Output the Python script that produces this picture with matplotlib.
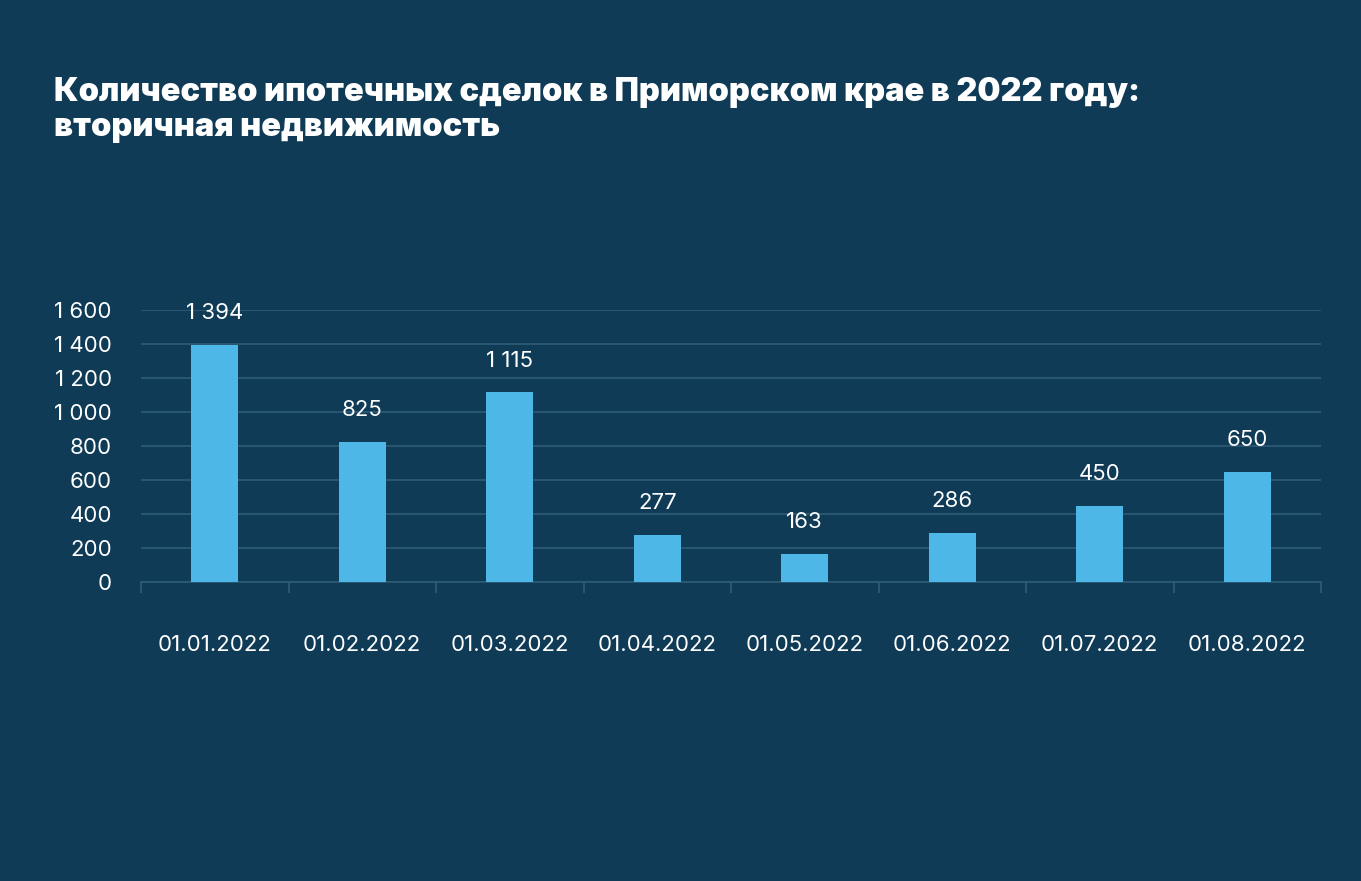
import matplotlib.pyplot as plt
from matplotlib.ticker import FuncFormatter

dates = ["01.01.2022", "01.02.2022", "01.03.2022", "01.04.2022",
         "01.05.2022", "01.06.2022", "01.07.2022", "01.08.2022"]
deals = [1394, 825, 1115, 277, 163, 286, 450, 650]
yticks = [0, 200, 400, 600, 800, 1000, 1200, 1400, 1600]

BG = "#0f3b57"
BAR = "#4db8e8"
GRID = "#2e5b76"
FONT = ["Inter", "DejaVu Sans"]


def fmt(v, pos=None):
    return f"{int(v):,}".replace(",", " ")


fig = plt.figure(figsize=(13.61, 8.81), dpi=100, facecolor=BG)
ax = fig.add_axes([141 / 1361, 1 - 582 / 881, 1180 / 1361, 272 / 881])
ax.set_facecolor(BG)

x = list(range(len(dates)))
ax.bar(x, deals, width=0.32, color=BAR, zorder=3)

for xi, v in zip(x, deals):
    ax.annotate(fmt(v), (xi, v), xytext=(0, 23), textcoords="offset points",
                ha="center", va="center", color="white", fontsize=16,
                family=FONT, clip_on=False)

ax.set_xlim(-0.5, len(dates) - 0.5)
ax.set_ylim(0, 1600)
ax.set_yticks(yticks)
ax.yaxis.set_major_formatter(FuncFormatter(fmt))
ax.grid(axis="y", color=GRID, linewidth=1.2, zorder=0)

# category labels centred, tick marks at boundaries
ax.set_xticks(x)
ax.set_xticklabels(dates)
ax.set_xticks([i - 0.5 for i in range(len(dates) + 1)], minor=True)
ax.tick_params(axis="x", which="major", length=0, pad=38.5, labelsize=16, labelcolor="white")
ax.tick_params(axis="x", which="minor", length=8, width=1.2, color=GRID)
ax.tick_params(axis="y", length=0, pad=21, labelsize=16, labelcolor="white")
for lab in ax.get_xticklabels() + ax.get_yticklabels():
    lab.set_family(FONT)

for side in ["top", "right", "left"]:
    ax.spines[side].set_visible(False)
ax.spines["bottom"].set_color(GRID)
ax.spines["bottom"].set_linewidth(1.2)

fig.text(54 / 1361, 1 - 77 / 881,
         "Количество ипотечных сделок в Приморском крае в 2022 году:\nвторичная недвижимость",
         ha="left", va="top", color="white", fontsize=23.4, fontweight=900,
         family=FONT, linespacing=1.15)

fig.savefig("out.png", dpi=100, facecolor=BG)
